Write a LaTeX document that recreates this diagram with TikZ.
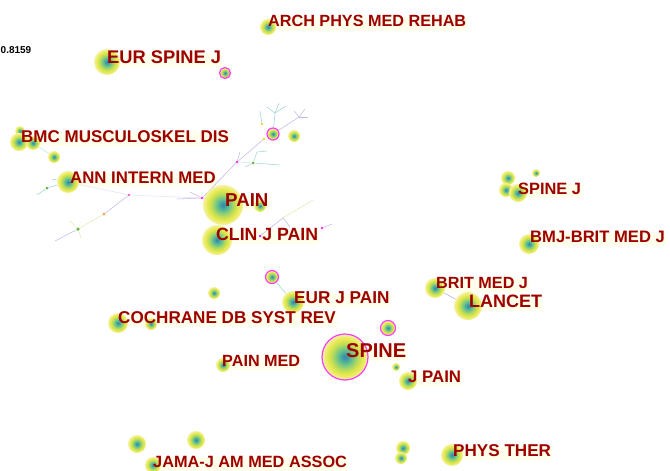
\documentclass[tikz,border=0pt]{standalone}
\usepackage{fontspec}
\setmainfont{Liberation Sans}
\definecolor{labred}{RGB}{158,0,0}
\definecolor{cream}{RGB}{255,255,236}
\definecolor{cA}{RGB}{80,120,175}
\definecolor{cB}{RGB}{55,155,165}
\definecolor{cC}{RGB}{105,195,140}
\definecolor{cD}{RGB}{185,220,90}
\definecolor{cE}{RGB}{230,232,75}
\definecolor{cF}{RGB}{243,243,165}
\definecolor{ringmag}{RGB}{250,60,250}
\definecolor{lav}{RGB}{196,184,230}
\definecolor{tealedge}{RGB}{155,215,215}
\definecolor{yedge}{RGB}{228,234,175}
\definecolor{dotmag}{RGB}{240,40,240}
\definecolor{dotgreen}{RGB}{100,180,60}
\definecolor{dotyel}{RGB}{220,220,50}
\definecolor{dotorange}{RGB}{240,170,100}
\pgfdeclareradialshading{cite}{\pgfpoint{0bp}{0bp}}{color(0bp)=(cA); color(2.5bp)=(cB); color(8bp)=(cC); color(14bp)=(cD); color(19bp)=(cE); color(25bp)=(cF); color(50bp)=(cF)}
\pgfdeclarelayer{boxes}
\pgfdeclarelayer{edges}
\pgfsetlayers{boxes,edges,main}
\begin{document}
\begin{tikzpicture}[x=1pt,y=-1pt,
  jc/.style={circle, inner sep=0pt, shading=cite, minimum size=#1},
  ring/.style={draw=ringmag, line width=1.2pt},
  dot/.style={circle, inner sep=0pt, minimum size=#1},
  lab/.style={anchor=base west, inner xsep=1pt, inner ysep=2pt, text height=0.76em, text depth=0.2em,
    text=labred, font=\bfseries\fontsize{#1}{#1}\selectfont},
  ed/.style={line width=0.55pt}
]
\useasboundingbox (0,0) rectangle (670,471);

% ---- journal circles ----
\node[jc=16pt] (archc) at (268,27) {};
\node[jc=26pt] (eurspinec) at (107,62) {};
\node[jc=11pt, ring] (mr1) at (225,73) {};
\node[jc=10pt] (bmc1) at (20,131) {};
\node[jc=18pt] (bmc2) at (19,142) {};
\node[jc=14pt] (bmc3) at (33,143) {};
\node[jc=12pt] (bmcsm) at (54,157) {};
\node[jc=22pt] (annc) at (68,182) {};
\node[jc=40pt] (painc) at (223,205) {};
\node[jc=12pt] (painsm) at (260,206) {};
\node[jc=30pt] (clinc) at (217,240) {};
\node[jc=12pt, ring] (mr2) at (273,134) {};
\node[jc=12pt] (sm294) at (294,136) {};
\node[jc=14pt] (spj1) at (508,178) {};
\node[jc=14pt] (spj2) at (506,190) {};
\node[jc=18pt] (spj3) at (518,193) {};
\node[jc=8pt] (spj4) at (536,173) {};
\node[jc=20pt] (bmjc) at (529,244) {};
\node[jc=20pt] (britc) at (435,288) {};
\node[jc=28pt] (lancetc) at (468,306) {};
\node[jc=22pt] (eurjpainc) at (293,302) {};
\node[jc=13pt, ring] (mr3) at (272,277) {};
\node[jc=12pt] (sm214) at (214,293) {};
\node[jc=20pt] (cochc) at (118,323) {};
\node[jc=12pt] (cochsm) at (151,324) {};
\node[jc=15pt, ring] (mr4) at (388,328) {};
\node[jc=46pt, ring] (spinec) at (345,357) {};
\node[jc=14pt] (painmedc) at (223,365) {};
\node[jc=8pt] (sm396) at (396,367) {};
\node[jc=18pt] (jpainc) at (408,381) {};
\node[jc=18pt] (jama1) at (137,444) {};
\node[jc=18pt] (jama2) at (196,440) {};
\node[jc=16pt] (jama3) at (153,465) {};
\node[jc=14pt] (pt1) at (403,448) {};
\node[jc=12pt] (pt2) at (401,458) {};
\node[jc=22pt] (physc) at (452,455) {};

% ---- tree dots ----
\node[dot=2.2pt, fill=dotmag] (p0) at (129,195) {};
\node[dot=3.2pt, fill=dotorange] (o1) at (104,214) {};
\node[dot=3.5pt, fill=dotgreen] (g1) at (78,229) {};
\node[dot=3pt, fill=dotgreen] (g0) at (47,188) {};
\node[dot=2.6pt, fill=dotmag] (p1) at (202,198) {};
\node[dot=2.6pt, fill=dotmag] (p2) at (237,162) {};
\node[dot=2.6pt, fill=dotyel] (y1) at (264,139) {};
\node[dot=2.6pt, fill=dotyel] (y2) at (262,124) {};
\node[dot=3pt, fill=dotgreen] (g2) at (253,163) {};
\node[dot=3pt, fill=dotmag] (p3) at (260,236) {};
\node[dot=2.6pt, fill=dotmag] (p4) at (322,228) {};
\coordinate (e1) at (55,241);
\coordinate (e2) at (70,221);
\coordinate (e3) at (81,238);
\coordinate (e4) at (177,199);
\coordinate (e5) at (190,192);
\coordinate (e6) at (240,152);
\coordinate (j3) at (299,117);
\coordinate (j3a) at (308,117);
\coordinate (j3b) at (305,109);
\coordinate (j3c) at (294,111);
\coordinate (k1) at (275,113);
\coordinate (k1a) at (267,107);
\coordinate (k1b) at (279,103);
\coordinate (k1c) at (286,106);
\coordinate (y2a) at (260,111);
\coordinate (g2a) at (257,152);
\coordinate (g2b) at (267,151);
\coordinate (g2c) at (280,165);
\coordinate (g2d) at (245,167);
\coordinate (q1) at (283,218);
\coordinate (q2) at (313,200);
\coordinate (q3) at (290,227);
\coordinate (q4) at (332,224);
\coordinate (a1) at (37,195);
\coordinate (a2) at (52,179);

\begin{pgfonlayer}{edges}
\draw[ed, draw=lav!45] (annc) -- (p0);
\draw[ed, draw=lav!40] (p0) -- (p1);
\draw[ed, draw=lav] (p0) -- (o1);
\draw[ed, draw=yedge] (o1) -- (g1);
\draw[ed, draw=lav] (g1) -- (e1);
\draw[ed, draw=yedge] (g1) -- (e2);
\draw[ed, draw=yedge] (g1) -- (e3);
\draw[ed, draw=tealedge] (annc) -- (g0) -- (a1);
\draw[ed, draw=tealedge] (annc) -- (a2);
\draw[ed, draw=lav] (p1) -- (e4);
\draw[ed, draw=lav] (p1) -- (e5);
\draw[ed, draw=lav!70] (painc) -- (p1);
\draw[ed, draw=lav] (p1) -- (p2);
\draw[ed, draw=lav] (p2) -- (e6);
\draw[ed, draw=lav] (p2) -- (y1);
\draw[ed, draw=lav] (mr2) -- (j3);
\draw[ed, draw=lav] (j3) -- (j3a);
\draw[ed, draw=lav] (j3) -- (j3b);
\draw[ed, draw=lav] (j3) -- (j3c);
\draw[ed, draw=tealedge] (mr2) -- (k1);
\draw[ed, draw=tealedge] (k1) -- (k1a);
\draw[ed, draw=tealedge] (k1) -- (k1b);
\draw[ed, draw=tealedge] (k1) -- (k1c);
\draw[ed, draw=tealedge] (y2a) -- (y2);
\draw[ed, draw=tealedge!50] (p2) -- (g2);
\draw[ed, draw=tealedge] (g2) -- (g2a) -- (g2b);
\draw[ed, draw=tealedge] (g2) -- (g2c);
\draw[ed, draw=tealedge] (g2) -- (g2d);
\draw[ed, draw=lav] (p3) -- (q1);
\draw[ed, draw=yedge] (q1) -- (q2);
\draw[ed, draw=lav] (q1) -- (q3);
\draw[ed, draw=lav] (p4) -- (q4);
\draw[ed, draw=tealedge] (mr3) -- (eurjpainc);
\draw[ed, draw=lav!80!gray] (britc) -- (lancetc);
\draw[ed, draw=tealedge!70] (bmc3) -- (bmcsm);
\end{pgfonlayer}

% ---- labels ----
\node[lab=16.2] (lArch) at (267,27) {ARCH PHYS MED REHAB};
\node[lab=18.3] (lEurSpine) at (106,63) {EUR SPINE J};
\node[lab=17] (lBmc) at (20,142) {BMC MUSCULOSKEL DIS};
\node[lab=16.8] (lAnn) at (69,183) {ANN INTERN MED};
\node[lab=18.7] (lPain) at (224,206) {PAIN};
\node[lab=17.7] (lClin) at (215,240) {CLIN J PAIN};
\node[lab=16.4] (lSpineJ) at (517,194) {SPINE J};
\node[lab=16.6] (lBmj) at (529,242) {BMJ-BRIT MED J};
\node[lab=16.2] (lBrit) at (435,288) {BRIT MED J};
\node[lab=18] (lLancet) at (468,307) {LANCET};
\node[lab=17.2] (lEurJPain) at (293,303) {EUR J PAIN};
\node[lab=17.1] (lCoch) at (117,323) {COCHRANE DB SYST REV};
\node[lab=20] (lSpine) at (345,357) {SPINE};
\node[lab=16.2] (lPainMed) at (221,366) {PAIN MED};
\node[lab=16.8] (lJPain) at (407,382) {J PAIN};
\node[lab=16.3] (lJama) at (152,467) {JAMA-J AM MED ASSOC};
\node[lab=17.1] (lPhys) at (452,456) {PHYS THER};
\node[anchor=base west, inner sep=0pt, font=\bfseries\fontsize{10}{10}\selectfont] (sil) at (0.5,53) {0.8159};

\begin{pgfonlayer}{boxes}
\foreach \n in {lArch,lEurSpine,lBmc,lAnn,lPain,lClin,lSpineJ,lBmj,lBrit,lLancet,lEurJPain,lCoch,lSpine,lPainMed,lJPain,lJama,lPhys}
  \fill[cream] (\n.south west) rectangle (\n.north east);
\end{pgfonlayer}
\end{tikzpicture}
\end{document}
